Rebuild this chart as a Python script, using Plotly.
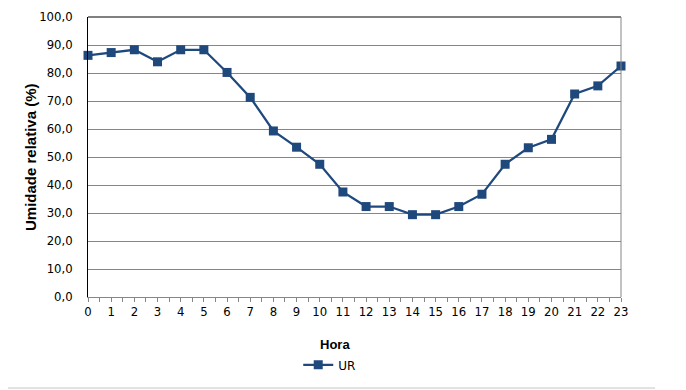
import plotly.graph_objects as go

hours = list(range(24))
ur = [86.3, 87.3, 88.3, 84.0, 88.3, 88.3, 80.2, 71.3, 59.3, 53.5, 47.4, 37.5,
      32.3, 32.3, 29.4, 29.4, 32.3, 36.7, 47.4, 53.3, 56.3, 72.5, 75.4, 82.5]
y_ticks = [0, 10, 20, 30, 40, 50, 60, 70, 80, 90, 100]

color = "#1F497D"
grid = "#868686"
fig = go.Figure()
fig.add_trace(go.Scatter(
    x=hours, y=ur, name="UR", mode="lines+markers",
    line=dict(color=color, width=2.25),
    marker=dict(symbol="square", size=9, color=color),
    cliponaxis=False,
))

fig.update_layout(
    width=686, height=390,
    margin=dict(l=80, r=73, t=9, b=101, autoexpand=False),
    paper_bgcolor="white", plot_bgcolor="white",
    separators=",.",
    showlegend=True,
    legend=dict(orientation="h", xref="container", yref="container",
                x=0.469, xanchor="center", y=0.085, yanchor="middle",
                font=dict(family="DejaVu Sans", size=12, color="#000000")),
    xaxis=dict(
        range=[0, 23], tickvals=hours, ticktext=[str(h) for h in hours],
        showgrid=False, zeroline=False, automargin=False,
        showline=True, linecolor=grid, linewidth=1,
        ticks="outside", ticklen=4, tickcolor=grid,
        minor=dict(dtick=0.5, tick0=0, ticks="outside", ticklen=4, tickcolor=grid),
        tickfont=dict(family="DejaVu Sans", size=11.7, color="#000000"),
    ),
    yaxis=dict(
        range=[0, 100], tickvals=y_ticks, tickformat=".1f",
        showgrid=True, gridcolor=grid, gridwidth=1, zeroline=False, automargin=False,
        showline=True, linecolor="#000000", linewidth=1,
        ticks="", ticklabelstandoff=12,
        tickfont=dict(family="DejaVu Sans", size=11.7, color="#000000"),
    ),
    annotations=[
        dict(text="<b>Hora</b>", xref="paper", yref="paper", x=0.4634, y=-0.168,
             xanchor="center", yanchor="middle", showarrow=False,
             font=dict(family="Liberation Sans", size=13, color="#000000")),
        dict(text="<b>Umidade relativa (%)</b>", xref="paper", yref="paper", x=-0.1088, y=0.5,
             xanchor="center", yanchor="middle", showarrow=False, textangle=-90,
             font=dict(family="Liberation Sans", size=15, color="#000000")),
    ],
    shapes=[
        dict(type="line", xref="paper", yref="paper", x0=0, x1=1, y0=1, y1=1,
             line=dict(color="#000000", width=1)),
        dict(type="line", xref="paper", yref="paper", x0=1, x1=1, y0=0, y1=1,
             line=dict(color=grid, width=1)),
        dict(type="line", xref="paper", yref="paper", x0=-0.165, x1=1.064, y0=-0.325, y1=-0.325,
             line=dict(color="#D9D9D9", width=1.5)),
    ],
)

fig.write_html("out.html")
